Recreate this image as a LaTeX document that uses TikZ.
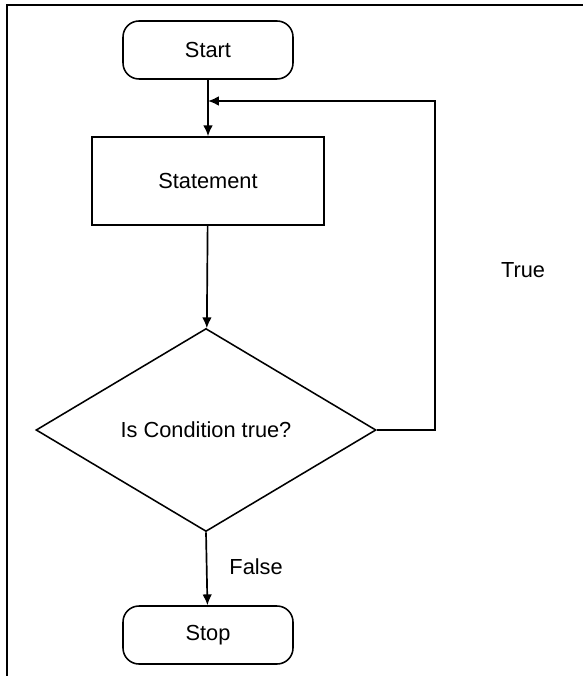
\documentclass[tikz,border=0pt]{standalone}
\usepackage{fontspec}
\setmainfont{Liberation Sans}
\usepackage{tikz}
\usetikzlibrary{arrows.meta,calc,positioning,shapes.geometric}
\tikzset{%
	terminal/.style = {draw, rectangle, rounded corners=0.4cm, minimum width=4.25cm, minimum height=1.45cm, text centered},
	process/.style  = {draw, rectangle, minimum width=5.8cm, minimum height=2.2cm, text centered},
	decision/.style = {draw, diamond, inner sep=0pt, minimum width=8.5cm, minimum height=5.075cm, aspect=1.675, text centered},
	arrow/.style    = {line width=1.2pt,-{Latex[length=0.27cm,width=0.24cm]}},
}

\begin{document}
\begin{tikzpicture}[line width=1.1pt, font=\fontsize{15.5}{18}\selectfont]
	\useasboundingbox (0,0) rectangle (14.575,-16.9);
	\draw (0.175,-16.9) -- (0.175,-0.125) -- (14.575,-0.125);
	\node[terminal] (start) at (5.2,-1.25) {Start};
	\node[process] (stmt) at (5.2,-4.525) {Statement};
	\node[decision] (cond) at (5.15,-10.75) {Is Condition true?};
	\node[terminal] (stop) at (5.2,-15.875) {Stop};
	\coordinate (loop) at (10.875,-2.525);
	\draw[arrow] (start) -- (stmt);
	\draw[arrow] (stmt) -- (cond);
	\draw[arrow] (cond.south) -- (stop);
	\draw[arrow] (cond.east) -| (loop) -- (start.south |- loop);
	\node at (13.075,-6.75) (truelbl) {True};
	\node[right] at (5.6,-14.175) (falselbl) {False};
\end{tikzpicture}
\end{document}
